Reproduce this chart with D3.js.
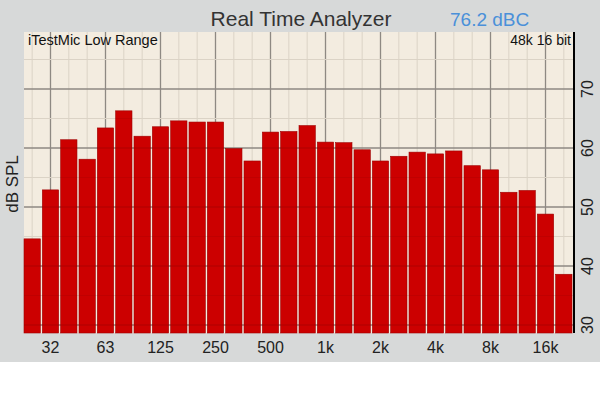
<!DOCTYPE html>
<html lang="en">
  <head>
    <meta charset="UTF-8" />
    <title>Real Time Analyzer</title>
    <style>
      * {
        font-family: "Liberation Sans", Arial, Helvetica, sans-serif;
      }
      body {
        margin: 0;
        background: #fff;
      }
    </style>
    <script src="https://cdn.jsdelivr.net/npm/d3@7"></script>
  </head>
  <body>
    <div class="chart-box"></div>
    <script>
      // 1/3 octave bands, 25 Hz .. 20 kHz
      const bands = [
        "25", "32", "40", "50", "63", "80", "100", "125", "160", "200",
        "250", "315", "400", "500", "630", "800", "1k", "1.25k", "1.6k", "2k",
        "2.5k", "3.15k", "4k", "5k", "6.3k", "8k", "10k", "12.5k", "16k", "20k",
      ];
      const levels = [
        44.6, 52.9, 61.4, 58.1, 63.4, 66.3, 62.0, 63.6, 64.6, 64.4,
        64.4, 59.9, 57.8, 62.7, 62.8, 63.8, 61.0, 60.9, 59.7, 57.8,
        58.6, 59.3, 59.0, 59.5, 57.0, 56.3, 52.5, 52.8, 48.8, 38.6,
      ];
      const xLabels = ["32", "63", "125", "250", "500", "1k", "2k", "4k", "8k", "16k"];
      const yTicks = [30, 40, 50, 60, 70];
      const gridLevels = [30, 35, 40, 45, 50, 55, 60, 65, 70, 75];

      function init() {
        const W = 600, H = 400;
        const plot = { left: 24, right: 574, top: 32, bottom: 333 };

        const svg = d3
          .select(".chart-box")
          .append("svg")
          .attr("width", W)
          .attr("height", H);

        // grey panel
        svg.append("rect").attr("width", W).attr("height", 362).attr("fill", "#d7d9d9");

        const x = d3.scaleBand().domain(bands).range([plot.left, 572]).paddingInner(0.11).paddingOuter(0);
        const y = d3.scaleLinear().domain([30, 80]).range([325, 30]);
        const cx = (d) => x(d) + x.bandwidth() / 2;
        const major = (d) => xLabels.includes(d);

        // plot background
        svg
          .append("rect")
          .attr("x", plot.left)
          .attr("y", plot.top)
          .attr("width", plot.right - plot.left)
          .attr("height", plot.bottom - plot.top)
          .attr("fill", "#f3ece0");

        // grid
        const grid = svg.append("g");
        grid
          .selectAll(".vg")
          .data(bands)
          .enter()
          .append("line")
          .attr("x1", cx)
          .attr("x2", cx)
          .attr("y1", plot.top)
          .attr("y2", plot.bottom)
          .attr("stroke", (d) => (major(d) ? "#8e8983" : "#dbd3c6"))
          .attr("stroke-width", (d) => (major(d) ? 1.3 : 1));
        grid
          .selectAll(".hg")
          .data(gridLevels)
          .enter()
          .append("line")
          .attr("x1", plot.left)
          .attr("x2", plot.right)
          .attr("y1", (d) => y(d))
          .attr("y2", (d) => y(d))
          .attr("stroke", (d) => (d % 10 === 0 ? "#8e8983" : "#dbd3c6"))
          .attr("stroke-width", (d) => (d % 10 === 0 ? 1.3 : 1));

        // bars (also used as clip for the faint lines inside them)
        const barAttrs = (sel) =>
          sel
            .attr("x", (d) => x(d))
            .attr("y", (d, i) => y(levels[i]))
            .attr("width", x.bandwidth())
            .attr("height", (d, i) => plot.bottom - y(levels[i]));

        svg
          .append("g")
          .selectAll("rect")
          .data(bands)
          .enter()
          .append("rect")
          .call(barAttrs)
          .attr("fill", "#cc0000")
          .attr("stroke", "#9e0000")
          .attr("stroke-width", 0.6);

        svg
          .append("clipPath")
          .attr("id", "barclip")
          .selectAll("rect")
          .data(bands)
          .enter()
          .append("rect")
          .call(barAttrs);

        svg
          .append("g")
          .attr("clip-path", "url(#barclip)")
          .selectAll("line")
          .data(gridLevels)
          .enter()
          .append("line")
          .attr("x1", plot.left)
          .attr("x2", plot.right)
          .attr("y1", (d) => y(d))
          .attr("y2", (d) => y(d))
          .attr("stroke", "#6a0000")
          .attr("stroke-opacity", (d) => (d % 10 === 0 ? 0.3 : 0.12));

        // right axis
        svg
          .append("line")
          .attr("x1", plot.right)
          .attr("x2", plot.right)
          .attr("y1", plot.top)
          .attr("y2", plot.bottom)
          .attr("stroke", "#000")
          .attr("stroke-width", 2);
        svg
          .append("g")
          .selectAll("text")
          .data(yTicks)
          .enter()
          .append("text")
          .attr("transform", (d) => "translate(593," + y(d) + ") rotate(-90)")
          .attr("text-anchor", "middle")
          .attr("font-size", 16)
          .attr("fill", "#222")
          .text((d) => d);

        // bottom labels
        svg
          .append("g")
          .selectAll("text")
          .data(xLabels)
          .enter()
          .append("text")
          .attr("x", cx)
          .attr("y", 353)
          .attr("text-anchor", "middle")
          .attr("font-size", 16)
          .attr("fill", "#222")
          .text((d) => d);

        // texts
        svg
          .append("text")
          .attr("transform", "translate(18,184) rotate(-90)")
          .attr("text-anchor", "middle")
          .attr("font-size", 17)
          .attr("fill", "#222")
          .text("dB SPL");
        svg
          .append("text")
          .attr("x", 301)
          .attr("y", 26)
          .attr("text-anchor", "middle")
          .attr("font-size", 21)
          .attr("fill", "#333")
          .text("Real Time Analyzer");
        svg
          .append("text")
          .attr("x", 450)
          .attr("y", 26)
          .attr("font-size", 19)
          .attr("fill", "#4a90d9")
          .text("76.2 dBC");
        svg
          .append("text")
          .attr("x", 28)
          .attr("y", 45)
          .attr("font-size", 14.5)
          .attr("fill", "#111")
          .text("iTestMic Low Range");
        svg
          .append("text")
          .attr("x", 571)
          .attr("y", 45)
          .attr("text-anchor", "end")
          .attr("font-size", 14)
          .attr("fill", "#111")
          .text("48k 16 bit");
      }

      init();
    </script>
  </body>
</html>
